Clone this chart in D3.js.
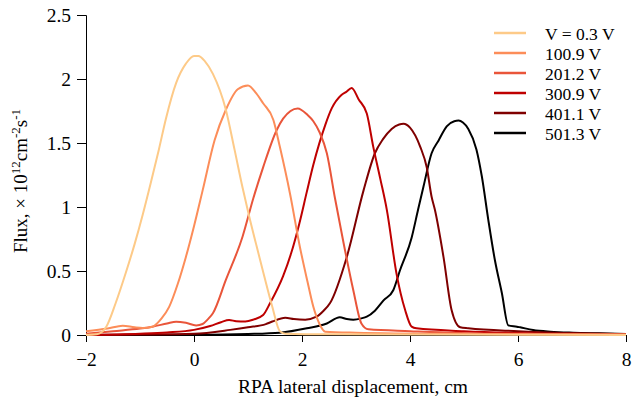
<!DOCTYPE html>
<html>
<head>
<meta charset="utf-8">
<script src="https://cdn.jsdelivr.net/npm/d3@7"></script>
<style>
  html, body { margin: 0; padding: 0; background: #fff; }
  svg { display: block; }
  text { font-family: "Liberation Serif", "Times New Roman", serif; fill: #000; }
</style>
</head>
<body>
<svg id="chart" width="632" height="404"></svg>
<script>
// Lateral flux profiles, one per bias voltage: [displacement (cm), flux (1e12 cm^-2 s^-1)]
const fluxV0_3 = [
  [-2, 0.0], [-1.8, 0.005], [-1.63, 0.06], [-1.45, 0.25], [-1.26, 0.49], [-1.1, 0.71],
  [-0.95, 0.94], [-0.80, 1.19], [-0.65, 1.45], [-0.52, 1.69], [-0.33, 1.97], [-0.15, 2.12],
  [0.0, 2.18], [0.08, 2.18], [0.2, 2.14], [0.35, 2.04], [0.59, 1.76], [0.75, 1.45],
  [0.90, 1.15], [1.02, 0.93], [1.15, 0.71], [1.30, 0.46], [1.45, 0.22], [1.59, 0.03],
  [1.7, 0.01], [2.5, 0.005], [8, 0.0]
];
const fluxV100_9 = [
  [-2, 0.03], [-1.6, 0.05], [-1.32, 0.073], [-1.1, 0.06], [-0.95, 0.055], [-0.77, 0.065],
  [-0.6, 0.13], [-0.46, 0.22], [-0.3, 0.40], [-0.15, 0.61], [0.0, 0.85], [0.16, 1.13],
  [0.38, 1.52], [0.59, 1.76], [0.81, 1.92], [1.0, 1.95], [1.15, 1.89], [1.28, 1.81],
  [1.47, 1.68], [1.59, 1.47], [1.78, 1.10], [1.96, 0.69], [2.1, 0.42], [2.21, 0.22],
  [2.32, 0.09], [2.43, 0.026], [3.0, 0.018], [5, 0.008], [8, 0.003]
];
const fluxV201_2 = [
  [-2, 0.01], [-1.5, 0.03], [-1.0, 0.05], [-0.77, 0.065], [-0.5, 0.09], [-0.33, 0.104],
  [-0.15, 0.095], [0.04, 0.075], [0.16, 0.086], [0.25, 0.12], [0.35, 0.17], [0.59, 0.43],
  [0.9, 0.77], [1.10, 1.07], [1.28, 1.31], [1.53, 1.60], [1.65, 1.69], [1.92, 1.77],
  [2.1, 1.72], [2.21, 1.67], [2.33, 1.58], [2.46, 1.42], [2.61, 1.07], [2.76, 0.74],
  [2.95, 0.35], [3.10, 0.09], [3.23, 0.044], [4, 0.03], [5.5, 0.01], [8, 0.003]
];
const fluxV300_9 = [
  [-2, 0.0], [-1, 0.01], [-0.5, 0.02], [0, 0.04], [0.3, 0.07], [0.5, 0.1], [0.65, 0.117],
  [0.78, 0.108], [0.95, 0.105], [1.1, 0.12], [1.28, 0.156], [1.41, 0.25], [1.65, 0.46],
  [1.80, 0.64], [1.95, 0.87], [2.09, 1.12], [2.21, 1.33], [2.43, 1.64], [2.55, 1.77],
  [2.73, 1.875], [2.82, 1.90], [2.92, 1.93], [3.05, 1.84], [3.20, 1.73], [3.32, 1.47],
  [3.45, 1.22], [3.57, 0.98], [3.75, 0.48], [3.91, 0.195], [4.03, 0.065],
  [4.12, 0.052], [5, 0.03], [6, 0.015], [8, 0.003]
];
const fluxV401_1 = [
  [-2, 0.0], [-1, 0.003], [0, 0.01], [0.67, 0.04], [1.0, 0.06], [1.33, 0.085], [1.45, 0.105],
  [1.69, 0.135], [1.85, 0.125], [2.06, 0.12], [2.27, 0.143], [2.40, 0.19], [2.52, 0.25],
  [2.83, 0.61], [3.14, 1.13], [3.35, 1.42], [3.5, 1.53], [3.66, 1.61], [3.80, 1.645],
  [3.88, 1.65], [4.0, 1.62], [4.19, 1.47], [4.31, 1.31], [4.40, 1.08], [4.46, 0.98],
  [4.62, 0.61], [4.77, 0.195], [4.93, 0.06], [5.08, 0.052], [6, 0.03], [7, 0.015], [8, 0.005]
];
const fluxV501_3 = [
  [-2, 0.0], [0, 0.002], [1, 0.008], [1.59, 0.018], [2.09, 0.052], [2.46, 0.09], [2.70, 0.138],
  [2.83, 0.125], [2.95, 0.12], [3.1, 0.13], [3.20, 0.143], [3.35, 0.19], [3.51, 0.27],
  [3.69, 0.35], [3.81, 0.50], [4.03, 0.76], [4.15, 0.98], [4.25, 1.16], [4.40, 1.42],
  [4.53, 1.52], [4.68, 1.63], [4.82, 1.67], [4.90, 1.675], [4.98, 1.66], [5.08, 1.61],
  [5.23, 1.45], [5.33, 1.24], [5.45, 0.90], [5.57, 0.59], [5.70, 0.33], [5.82, 0.075],
  [5.98, 0.065], [6.04, 0.06], [6.28, 0.039], [6.6, 0.026], [7.02, 0.018], [7.5, 0.013], [8, 0.008]
];

const seriesLabels = ["V = 0.3 V", "100.9 V", "201.2 V", "300.9 V", "401.1 V", "501.3 V"];
const seriesColors = ["#fdca88", "#fc8d59", "#e9553a", "#bf0000", "#7f0000", "#000000"];
const seriesData = [fluxV0_3, fluxV100_9, fluxV201_2, fluxV300_9, fluxV401_1, fluxV501_3];

const xTicks = [-2, 0, 2, 4, 6, 8];
const yTicks = [0, 0.5, 1, 1.5, 2, 2.5];

const svg = d3.select("#chart");
const plot = { left: 86, right: 626, top: 15, bottom: 335 };

const x = d3.scaleLinear().domain([-2, 8]).range([plot.left, plot.right]);
const y = d3.scaleLinear().domain([0, 2.5]).range([plot.bottom, plot.top]);

// Axes
const fmtMinus = d => d < 0 ? "\u2212" + Math.abs(d) : String(d);
const xAxis = svg.append("g")
  .attr("transform", `translate(0,${plot.bottom})`)
  .call(d3.axisBottom(x).tickValues(xTicks).tickFormat(fmtMinus).tickSizeOuter(0).tickSize(7).tickPadding(10));
const yAxis = svg.append("g")
  .attr("transform", `translate(${plot.left},0)`)
  .call(d3.axisLeft(y).tickValues(yTicks).tickFormat(d => String(d)).tickSizeOuter(0).tickSize(9).tickPadding(6));

[xAxis, yAxis].forEach(g => {
  g.select(".domain").attr("stroke", "#000").attr("stroke-width", 1);
  g.selectAll(".tick line").attr("stroke", "#000").attr("stroke-width", 1);
  g.selectAll(".tick text")
    .attr("font-family", "'Liberation Serif', serif")
    .attr("font-size", 19.5)
    .attr("fill", "#000");
});

// Curves (drawn from the highest voltage down so the lowest sits on top)
const line = d3.line()
  .x(d => x(d[0]))
  .y(d => y(d[1]))
  .curve(d3.curveMonotoneX);

const order = d3.range(seriesData.length).reverse();
svg.append("g")
  .attr("fill", "none")
  .selectAll("path")
  .data(order)
  .join("path")
  .attr("d", i => line(seriesData[i]))
  .attr("stroke", i => seriesColors[i])
  .attr("stroke-width", 2)
  .attr("stroke-linejoin", "round");

// Axis titles
svg.append("text")
  .attr("x", (plot.left + plot.right) / 2 - 3)
  .attr("y", 393)
  .attr("text-anchor", "middle")
  .attr("font-size", 19.5)
  .text("RPA lateral displacement, cm");

const yLabel = svg.append("text")
  .attr("transform", `translate(27,${(plot.top + plot.bottom) / 2 + 6}) rotate(-90)`)
  .attr("text-anchor", "middle")
  .attr("font-size", 19);
yLabel.append("tspan").text("Flux, \u00d7 10");
yLabel.append("tspan").attr("font-size", 13).attr("dy", -7).text("12");
yLabel.append("tspan").attr("dy", 7).text("cm");
yLabel.append("tspan").attr("font-size", 13).attr("dy", -7).text("-2");
yLabel.append("tspan").attr("dy", 7).text("s");
yLabel.append("tspan").attr("font-size", 13).attr("dy", -7).text("-1");

// Legend
const legend = svg.append("g").attr("transform", "translate(494,33)");
const items = legend.selectAll("g")
  .data(seriesLabels)
  .join("g")
  .attr("transform", (d, i) => `translate(0,${i * 20})`);
items.append("line")
  .attr("x1", 0).attr("x2", 32)
  .attr("stroke", (d, i) => seriesColors[i])
  .attr("stroke-width", 2.5);
items.append("text")
  .attr("x", 51)
  .attr("y", 6.5)
  .attr("font-size", 17.5)
  .text(d => d);
</script>
</body>
</html>
